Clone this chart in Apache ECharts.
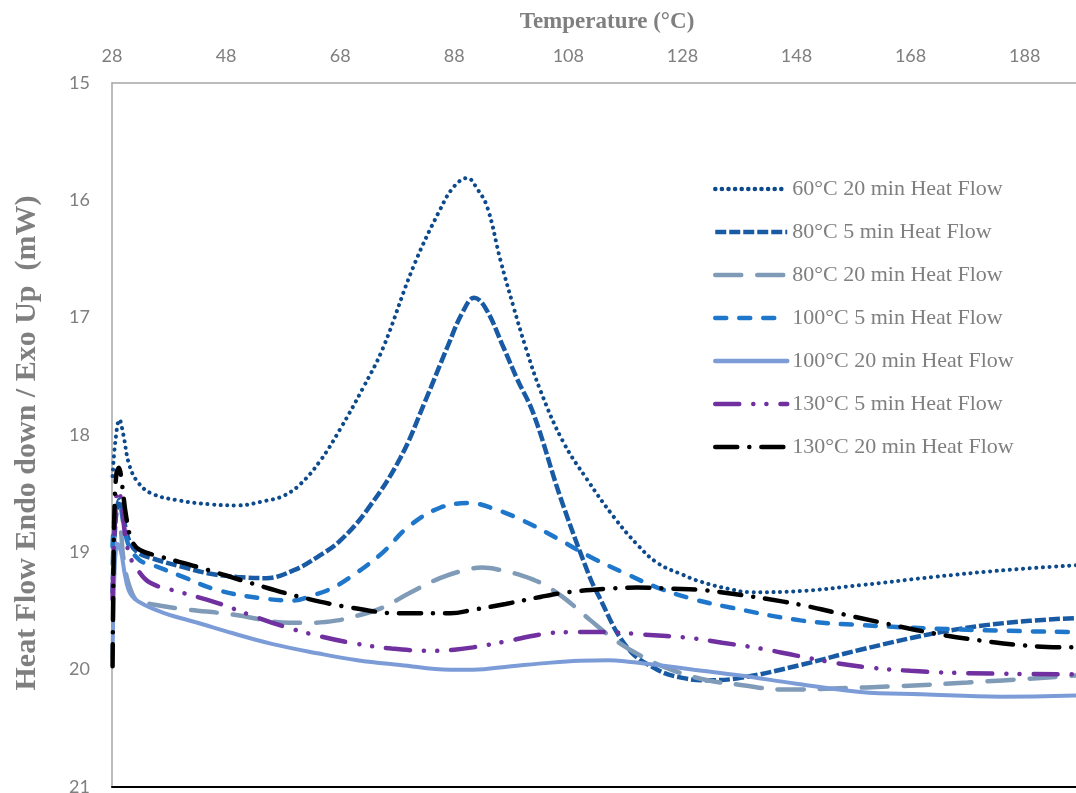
<!DOCTYPE html>
<html lang="en">
    <head>
        <meta charset="UTF-8" />
        <title>Heat Flow</title>
        <style>
            * {
                box-sizing: border-box;
                margin: 0;
                padding: 0;
            }
            #chart {
                width: 1076px;
                height: 793px;
                background-color: #fff;
            }
        </style>
    </head>
    <body>
        <div id="chart"></div>
        <script src="https://cdn.jsdelivr.net/npm/echarts@6/dist/echarts.min.js"></script>
        <script>
            // tick labels
            var xTicks = [28, 48, 68, 88, 108, 128, 148, 168, 188]
            var seriesNames = [
                '60°C 20 min Heat Flow',
                '80°C 5 min Heat Flow',
                '80°C 20 min Heat Flow',
                '100°C 5 min Heat Flow',
                '100°C 20 min Heat Flow',
                '130°C 5 min Heat Flow',
                '130°C 20 min Heat Flow'
            ]

            // [temperature, heat flow]
            var hf60_20 = [[28.1, 18.35], [28.6, 18.05], [29.3, 17.87], [30, 18.0], [31, 18.25], [32.5, 18.4], [35, 18.5], [40, 18.56], [45, 18.59], [50, 18.6], [55, 18.56], [58, 18.52], [61, 18.42], [64.5, 18.22], [68, 17.95], [72, 17.6], [75.5, 17.26], [80.8, 16.57], [85.5, 16.08], [88, 15.88], [90.3, 15.81], [92, 15.9], [93.8, 16.06], [96.1, 16.51], [98.4, 16.91], [100.5, 17.25], [103.1, 17.62], [107, 18.05], [111.3, 18.38], [116, 18.7], [120, 18.93], [123.6, 19.09], [128, 19.19], [131.2, 19.25], [136, 19.31], [140, 19.34], [148.7, 19.33], [159.2, 19.28], [172, 19.21], [185, 19.15], [197, 19.11]]
            var hf80_5 = [[28.1, 19.35], [28.6, 18.75], [29.3, 18.55], [30, 18.7], [31, 18.9], [32.5, 19.0], [35, 19.05], [40, 19.12], [45, 19.18], [50, 19.21], [55, 19.22], [60, 19.15], [64, 19.04], [68, 18.9], [72.7, 18.64], [78.5, 18.2], [83, 17.7], [86.8, 17.25], [89.5, 16.95], [91.5, 16.83], [93.5, 16.92], [96.6, 17.25], [99, 17.52], [101.9, 17.82], [106.6, 18.53], [111.5, 19.18], [113.1, 19.35], [118.3, 19.81], [123.6, 20.0], [128, 20.07], [132.4, 20.09], [138.2, 20.07], [148.7, 19.96], [159.2, 19.83], [173.3, 19.68], [185, 19.6], [197, 19.56]]
            var hf80_20 = [[28.1, 19.1], [28.6, 18.82], [29.3, 18.8], [30, 19.05], [31, 19.28], [32.6, 19.42], [34.7, 19.44], [40, 19.48], [49.2, 19.53], [59.2, 19.6], [63, 19.6], [67.5, 19.58], [71, 19.54], [75.5, 19.47], [80, 19.35], [85.5, 19.22], [90, 19.15], [92.9, 19.13], [96, 19.15], [100, 19.2], [103.1, 19.26], [107, 19.38], [111.9, 19.58], [116, 19.74], [120.6, 19.88], [126, 20.0], [132.4, 20.09], [138.2, 20.13], [145.7, 20.17], [154.5, 20.16], [166, 20.14], [178, 20.11], [197, 20.05]]
            var hf100_5 = [[28.1, 18.95], [28.6, 18.65], [29.3, 18.6], [30, 18.75], [31, 18.95], [32.9, 19.07], [34.7, 19.1], [40, 19.2], [46.4, 19.32], [54, 19.39], [59.8, 19.41], [63, 19.37], [66.8, 19.3], [71, 19.17], [75.5, 19.0], [80, 18.78], [85.5, 18.62], [90.8, 18.58], [95, 18.63], [100.1, 18.73], [106, 18.88], [111.9, 19.04], [118, 19.18], [123.6, 19.3], [130, 19.4], [136.4, 19.47], [148.7, 19.58], [159.2, 19.62], [178, 19.66], [197, 19.68]]
            var hf100_20 = [[28.1, 19.9], [28.5, 19.1], [29, 18.93], [29.6, 19.0], [30.3, 19.2], [31.2, 19.35], [33, 19.43], [37.3, 19.52], [43, 19.6], [49.2, 19.69], [56, 19.78], [64, 19.86], [71, 19.92], [78.5, 19.96], [87.3, 20.0], [91.3, 20.0], [98, 19.97], [105, 19.94], [110, 19.925], [115, 19.92], [119, 19.935], [123.6, 19.96], [130, 20.0], [138.2, 20.05], [148, 20.12], [159.2, 20.19], [170, 20.21], [183.8, 20.23], [197, 20.22]]
            var hf130_5 = [[28.1, 19.4], [28.5, 18.75], [29, 18.47], [29.6, 18.55], [30.3, 18.85], [31.2, 19.04], [32.5, 19.15], [34.7, 19.26], [40, 19.34], [46.4, 19.43], [52, 19.53], [58, 19.63], [64, 19.71], [69.8, 19.77], [77, 19.82], [84.4, 19.84], [88, 19.83], [91.3, 19.81], [97, 19.76], [103.1, 19.7], [108, 19.68], [114.8, 19.68], [121, 19.7], [129.4, 19.73], [135, 19.77], [141.7, 19.82], [148, 19.88], [154.5, 19.94], [160.4, 19.98], [168, 20.01], [178, 20.03], [197, 20.04]]
            var hf130_20 = [[28.1, 19.97], [28.25, 19.2], [28.45, 18.6], [28.8, 18.32], [29.2, 18.28], [29.7, 18.4], [30.5, 18.7], [31.5, 18.9], [32.9, 18.98], [36, 19.03], [43.4, 19.13], [52.2, 19.26], [61, 19.38], [69.8, 19.47], [78.5, 19.52], [87.3, 19.52], [91.3, 19.49], [97, 19.44], [103.1, 19.38], [108, 19.34], [114.8, 19.31], [120, 19.3], [126.4, 19.31], [131, 19.32], [136.4, 19.35], [145.7, 19.42], [150, 19.46], [154.5, 19.51], [163, 19.6], [172, 19.69], [180, 19.75], [189.6, 19.8], [197, 19.81]]

            var allData = [hf60_20, hf80_5, hf80_20, hf100_5, hf100_20, hf130_5, hf130_20]
            // line looks, same order as names
            var looks = [
                { color: '#0c4a8c', width: 4, type: [0.1, 6.5] },
                { color: '#185ba4', width: 4.5, type: [11, 3], cap: 'butt' },
                { color: '#7f9bb7', width: 4.5, type: [26, 16] },
                { color: '#1f77cb', width: 4.5, type: [11, 13] },
                { color: '#7c9cd8', width: 4, type: 'solid' },
                { color: '#7030a0', width: 4.5, type: [24, 14, 0.1, 13, 0.1, 14] },
                { color: '#000000', width: 4.5, type: [22, 12, 0.1, 12] }
            ]

            var grey = '#7f7f7f'
            var chart = echarts.init(document.getElementById('chart'))
            chart.setOption({
                animation: false,
                grid: {
                    left: 112,
                    top: 83,
                    right: 0,
                    bottom: 6,
                    containLabel: false,
                    outerBoundsMode: 'none'
                },
                legend: {
                    orient: 'vertical',
                    left: 713,
                    top: 178,
                    padding: 0,
                    itemWidth: 72,
                    itemHeight: 20,
                    itemGap: 21,
                    itemStyle: { opacity: 0 },
                    lineStyle: { width: 4.5 },
                    textStyle: {
                        color: grey,
                        fontFamily: 'Liberation Serif',
                        fontSize: 22,
                        lineHeight: 22
                    },
                    data: seriesNames
                },
                xAxis: [
                    {
                        type: 'value',
                        position: 'top',
                        min: 28,
                        max: 197,
                        name: 'Temperature (°C)',
                        nameLocation: 'middle',
                        nameGap: 49,
                        nameTextStyle: {
                            color: grey,
                            fontFamily: 'Liberation Serif',
                            fontWeight: 'bold',
                            fontSize: 23,
                            padding: [0, 0, 0, 26]
                        },
                        axisLine: { show: true, lineStyle: { color: '#a6a6a6', width: 1.5 } },
                        axisTick: { show: false },
                        splitLine: { show: false },
                        axisLabel: {
                            customValues: xTicks,
                            color: grey,
                            fontFamily: 'Lato',
                            fontSize: 18,
                            margin: 18
                        }
                    },
                    {
                        type: 'value',
                        position: 'bottom',
                        min: 28,
                        max: 197,
                        axisLine: { show: true, lineStyle: { color: '#000', width: 2 } },
                        axisTick: { show: false },
                        axisLabel: { show: false },
                        splitLine: { show: false }
                    }
                ],
                yAxis: {
                    type: 'value',
                    inverse: true,
                    min: 15,
                    max: 21,
                    interval: 1,
                    name: 'Heat Flow Endo down / Exo Up  (mW)',
                    nameLocation: 'middle',
                    nameGap: 70,
                    nameTextStyle: {
                        color: grey,
                        fontFamily: 'Liberation Serif',
                        fontWeight: 'bold',
                        fontSize: 30,
                        padding: [0, 16, 0, 0]
                    },
                    axisLine: { show: true, lineStyle: { color: '#a6a6a6', width: 1.5 } },
                    axisTick: { show: false },
                    splitLine: { show: false },
                    axisLabel: {
                        color: grey,
                        fontFamily: 'Lato',
                        fontSize: 18,
                        margin: 22
                    }
                },
                series: allData.map(function (d, i) {
                    var lk = looks[i]
                    return {
                        name: seriesNames[i],
                        type: 'line',
                        xAxisIndex: 0,
                        data: d,
                        smooth: 0.4,
                        symbol: 'none',
                        color: lk.color,
                        lineStyle: {
                            color: lk.color,
                            width: lk.width,
                            type: lk.type,
                            cap: lk.cap || 'round'
                        }
                    }
                })
            })
        </script>
    </body>
</html>
